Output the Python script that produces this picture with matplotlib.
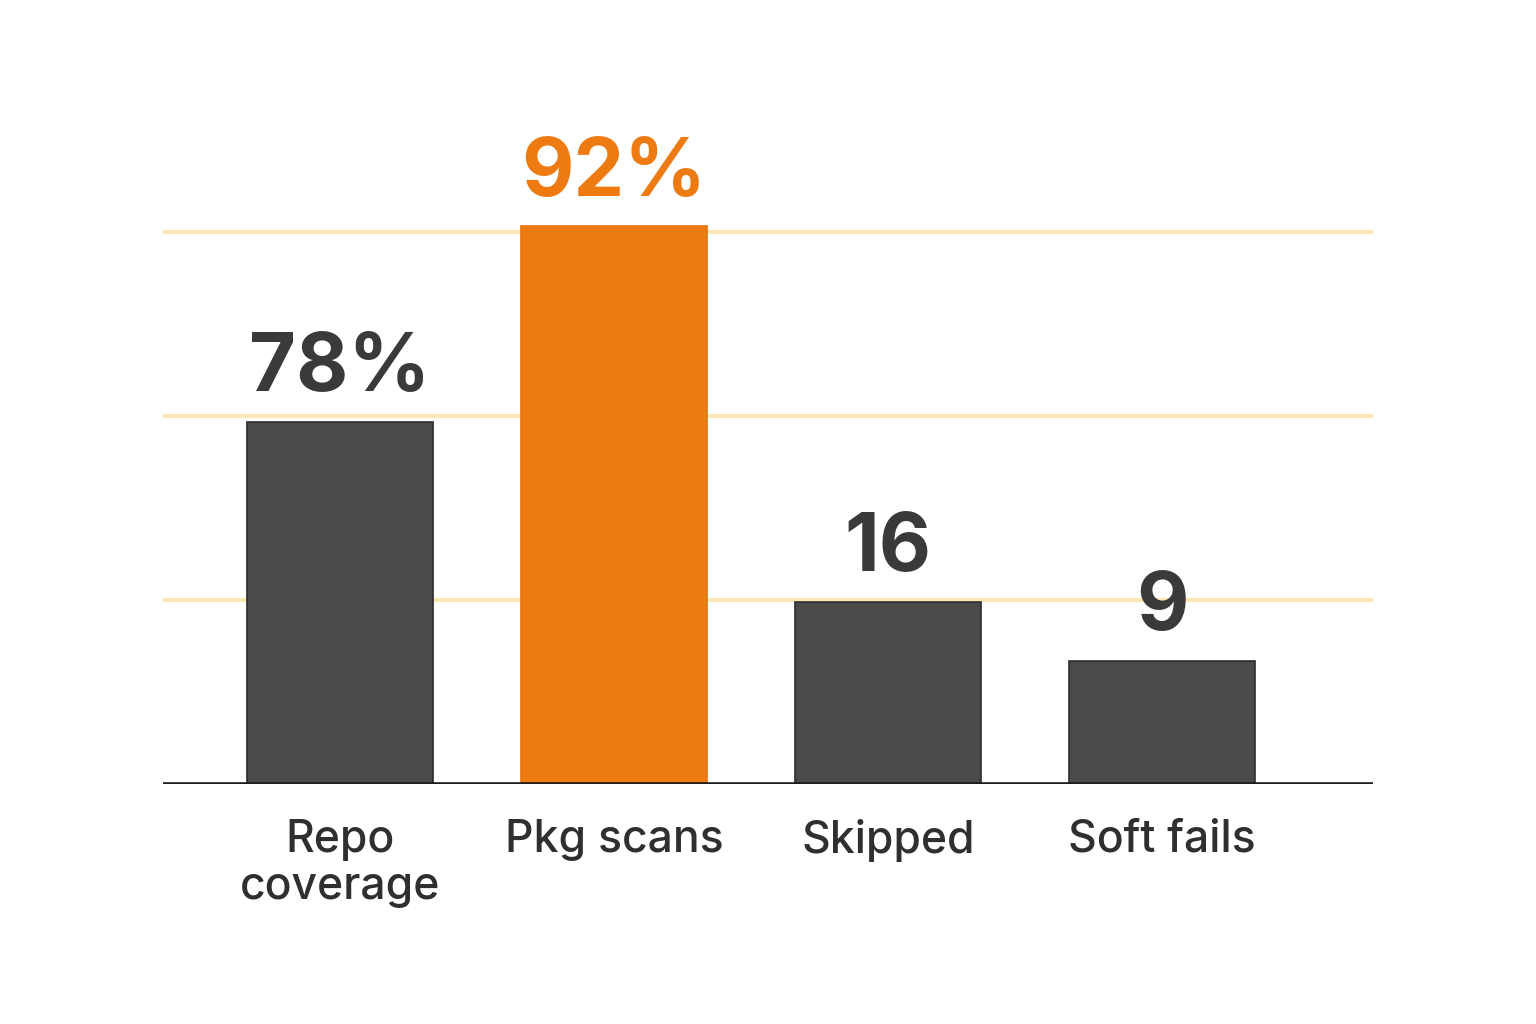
import matplotlib
matplotlib.use("Agg")
import matplotlib.pyplot as plt

categories = ["Repo\ncoverage", "Pkg scans", "Skipped", "Soft fails"]
value_labels = ["78%", "92%", "16", "9"]
bar_heights = [1.97, 3.03, 0.99, 0.67]   # drawn heights on the chart's own (unlabelled) scale
gridlines = [1, 2, 3]
highlight = [False, True, False, False]

DARK = "#4a4a4a"
ORANGE = "#ee7a12"
TEXT = "#3a3a3a"
GRID = "#fbe8b4"

fig = plt.figure(figsize=(15.36, 10.24), dpi=100)
fig.patch.set_facecolor("white")
ax = fig.add_axes([163/1536, (1024-784)/1024, 1210/1536, 736/1024])

x = list(range(len(categories)))
colors = [ORANGE if h else DARK for h in highlight]
edges = ["#e8730f" if h else "#2e2e2e" for h in highlight]
bars = ax.bar(x, bar_heights, width=0.68, color=colors, edgecolor=edges, linewidth=1.2, zorder=3)

for g in gridlines:
    ax.axhline(g, color=GRID, linewidth=3, zorder=1)
ax.axhline(0, color="#1c1c1c", linewidth=2.6, zorder=4)

for xi, h, lab, hl in zip(x, bar_heights, value_labels, highlight):
    ax.annotate(lab, (xi, h), xytext=(0, 22), textcoords="offset points",
                ha="center", va="baseline", fontsize=58, fontweight="bold",
                family=["Inter", "DejaVu Sans"], color=ORANGE if hl else TEXT, zorder=5)

ax.set_xlim(-0.646, 3.77)
ax.set_ylim(0, 4)
ax.set_xticks(x)
ax.set_xticklabels(categories, fontsize=32, family=["Inter", "DejaVu Sans"], fontweight="medium",
                   color="#2f2f2f", linespacing=1.15)
ax.tick_params(axis="x", length=0, pad=25)
ax.set_yticks([])
for s in ax.spines.values():
    s.set_visible(False)

fig.savefig("out.png", dpi=100, facecolor="white")
